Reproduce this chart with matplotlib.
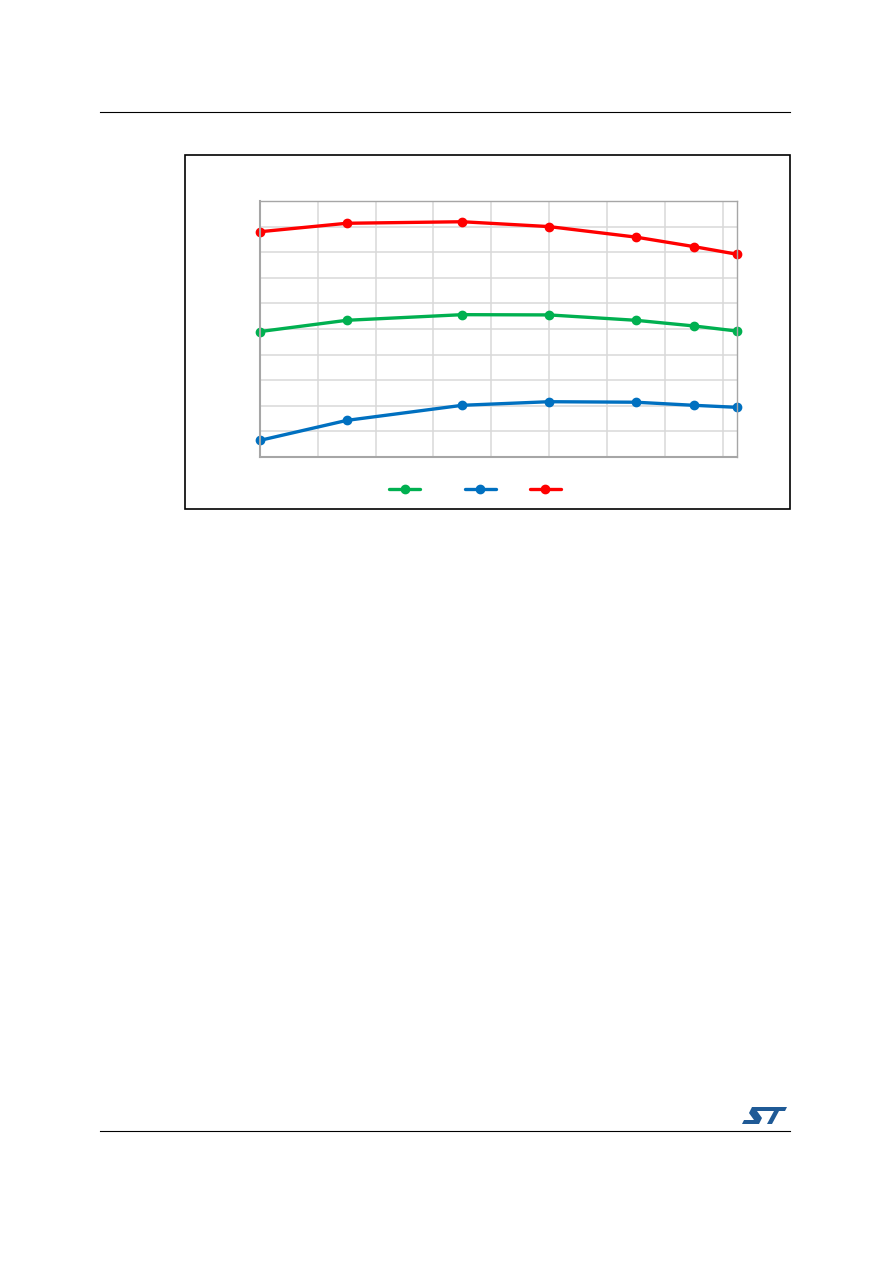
import matplotlib
matplotlib.use("Agg")
import matplotlib.pyplot as plt
from matplotlib.patches import Rectangle, Polygon
from matplotlib.lines import Line2D

# Data (y in grid units, x in temperature-like units)
x_vals = [-40, -10, 30, 60, 90, 110, 125]
green_vals = [4.90, 5.34, 5.56, 5.55, 5.34, 5.12, 4.92]
blue_vals = [0.65, 1.43, 2.02, 2.16, 2.14, 2.02, 1.94]
red_vals = [8.80, 9.13, 9.19, 9.00, 8.59, 8.22, 7.92]
series_labels = ["    ", " ", " "]
x_ticks = list(range(-40, 121, 20))
y_ticks = list(range(0, 11, 1))

W, H = 892, 1263
fig = plt.figure(figsize=(W / 100, H / 100), dpi=100)

def fx(px):
    return px / W

def fy(py):
    return 1 - py / H

# page rules
fig.add_artist(Line2D([fx(100), fx(790)], [fy(112), fy(112)], color="black", lw=0.8))
fig.add_artist(Line2D([fx(100), fx(790)], [fy(1131), fy(1131)], color="black", lw=0.8))

# chart frame
fig.add_artist(Rectangle((fx(185), fy(509)), fx(790) - fx(185), fy(155) - fy(509),
                         fill=False, edgecolor="black", lw=1.2))

ax = fig.add_axes([fx(260), fy(457), fx(737) - fx(260), fy(201) - fy(457)])
ax.set_xlim(-40, 125)
ax.set_ylim(0, 10)
ax.set_xticks(x_ticks)
ax.set_yticks(y_ticks)
ax.tick_params(length=0, labelbottom=False, labelleft=False)
ax.grid(True, color="#D9D9D9", lw=1.1)
ax.set_axisbelow(True)
for s in ax.spines.values():
    s.set_color("#A6A6A6")
    s.set_linewidth(1.0)
ax.spines["left"].set_linewidth(1.5)
ax.spines["bottom"].set_linewidth(1.5)

colors = ["#00B050", "#0070C0", "#FF0000"]
for vals, c, lab in zip([green_vals, blue_vals, red_vals], colors, series_labels):
    ax.plot(x_vals, vals, color=c, lw=2.4, marker="o", markersize=6, label=lab,
            solid_capstyle="round", clip_on=False)

leg = fig.legend(loc="center left", bbox_to_anchor=(fx(389), fy(490)), ncol=3, frameon=False,
                 handlelength=2.8, columnspacing=2.15, handletextpad=0.6, fontsize=8,
                 borderpad=0.0, borderaxespad=0.0)

# ST logo approximation
logo_color = "#1F5A96"
s_shape = [(752, 1107), (768, 1107), (766, 1111), (757, 1111), (762, 1118), (759, 1124),
           (742, 1124), (744, 1120), (754, 1120), (749, 1113)]
t_shape = [(766, 1107), (787, 1107), (785, 1111), (779, 1111), (772, 1124), (767, 1124),
           (774, 1111), (764, 1111)]
for shp in (s_shape, t_shape):
    fig.add_artist(Polygon([(fx(a), fy(b)) for a, b in shp], closed=True,
                           facecolor=logo_color, edgecolor="none"))

fig.savefig("out.png", dpi=100)
